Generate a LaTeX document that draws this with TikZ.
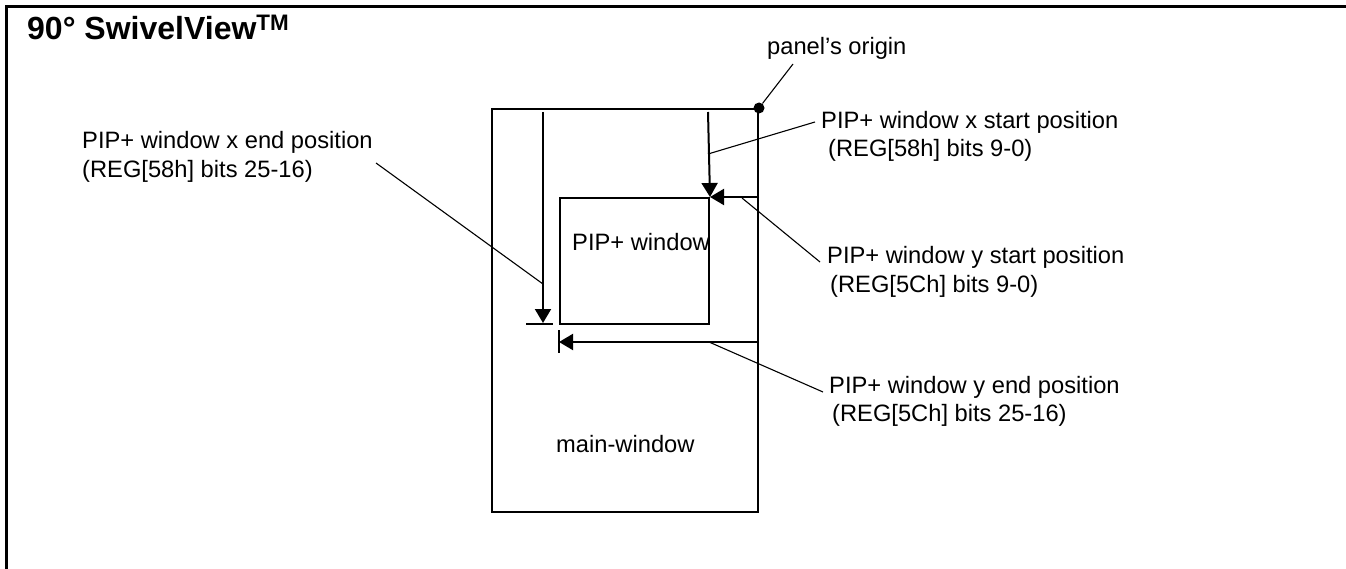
\documentclass[tikz,border=0pt]{standalone}
\usepackage{fontspec}
\setmainfont{Liberation Sans}
\usetikzlibrary{arrows.meta}
\begin{document}
\begin{tikzpicture}[x=1pt,y=-1pt,
  lbl/.style={font=\fontsize{23.7}{28}\selectfont, inner sep=0pt, anchor=base west},
  boxline/.style={line width=2pt},
  leader/.style={line width=1.1pt},
  arr/.style={line width=2pt, -{Triangle[length=14pt,width=16pt]}}]
\useasboundingbox (0,0) rectangle (1346,569);
% frame
\coordinate (fbl) at (6,569);
\coordinate (ftl) at (6,7);
\coordinate (ftr) at (1346,7);
\draw[line width=3pt] (fbl) -- (ftl) -- (ftr);
% title
\node[inner sep=0pt, anchor=base west, font=\bfseries\fontsize{32}{36}\selectfont] (title) at (27,40) {90° SwivelView\textsuperscript{TM}};
% main window
\node[draw, boxline, inner sep=0pt, minimum width=266pt, minimum height=403pt, anchor=north west] (main) at (491,108) {};
% PIP window
\node[draw, boxline, inner sep=0pt, minimum width=149pt, minimum height=126pt, anchor=north west] (pip) at (559,197) {};
\node[lbl] (piptext) at (572,251) {PIP+ window};
\node[lbl] (maintext) at (556,452) {main-window};
% origin dot
\node[circle, fill, inner sep=0pt, minimum size=11pt] (origin) at (main.north east) {};
\node[lbl] (originlbl) at (767,55) {panel’s origin};
\coordinate (originend) at (793,64);
\draw[leader] (origin) -- (originend);
% x start arrow
\coordinate (xs0) at (708,112);
\draw[arr] (xs0) -- (pip.north east);
% y start arrow
\coordinate (ys0) at (main.east |- pip.north);
\draw[arr] (ys0) -- (pip.north east);
% x end arrow
\coordinate (xe0) at (543,112);
\coordinate (xe1) at (543,323);
\draw[arr] (xe0) -- (xe1);
\coordinate (xt0) at (526,324);
\coordinate (xt1) at (553,324);
\draw[boxline] (xt0) -- (xt1);
% y end arrow
\coordinate (ye0) at (main.east |- 0,342);
\coordinate (ye1) at (559,342);
\draw[arr] (ye0) -- (ye1);
\coordinate (yt0) at (559,330);
\coordinate (yt1) at (559,353);
\draw[boxline] (yt0) -- (yt1);
% labels
\node[lbl] (xs1) at (821,129) {PIP+ window x start position};
\node[lbl] (xs2) at (828,157) {(REG[58h] bits 9-0)};
\node[lbl] (xe1l) at (82,149) {PIP+ window x end position};
\node[lbl] (xe2l) at (82,178) {(REG[58h] bits 25-16)};
\node[lbl] (ys1) at (827,264) {PIP+ window y start position};
\node[lbl] (ys2) at (830,292) {(REG[5Ch] bits 9-0)};
\node[lbl] (ye1l) at (829,393) {PIP+ window y end position};
\node[lbl] (ye2l) at (832,421) {(REG[5Ch] bits 25-16)};
% leaders
\coordinate (lxs0) at (708,154); \coordinate (lxs1) at (815,122);
\draw[leader] (lxs0) -- (lxs1);
\coordinate (lxe0) at (376,163); \coordinate (lxe1) at (543,284);
\draw[leader] (lxe0) -- (lxe1);
\coordinate (lys0) at (742,198); \coordinate (lys1) at (820,262);
\draw[leader] (lys0) -- (lys1);
\coordinate (lye0) at (709,342); \coordinate (lye1) at (823,392);
\draw[leader] (lye0) -- (lye1);
\end{tikzpicture}
\end{document}
